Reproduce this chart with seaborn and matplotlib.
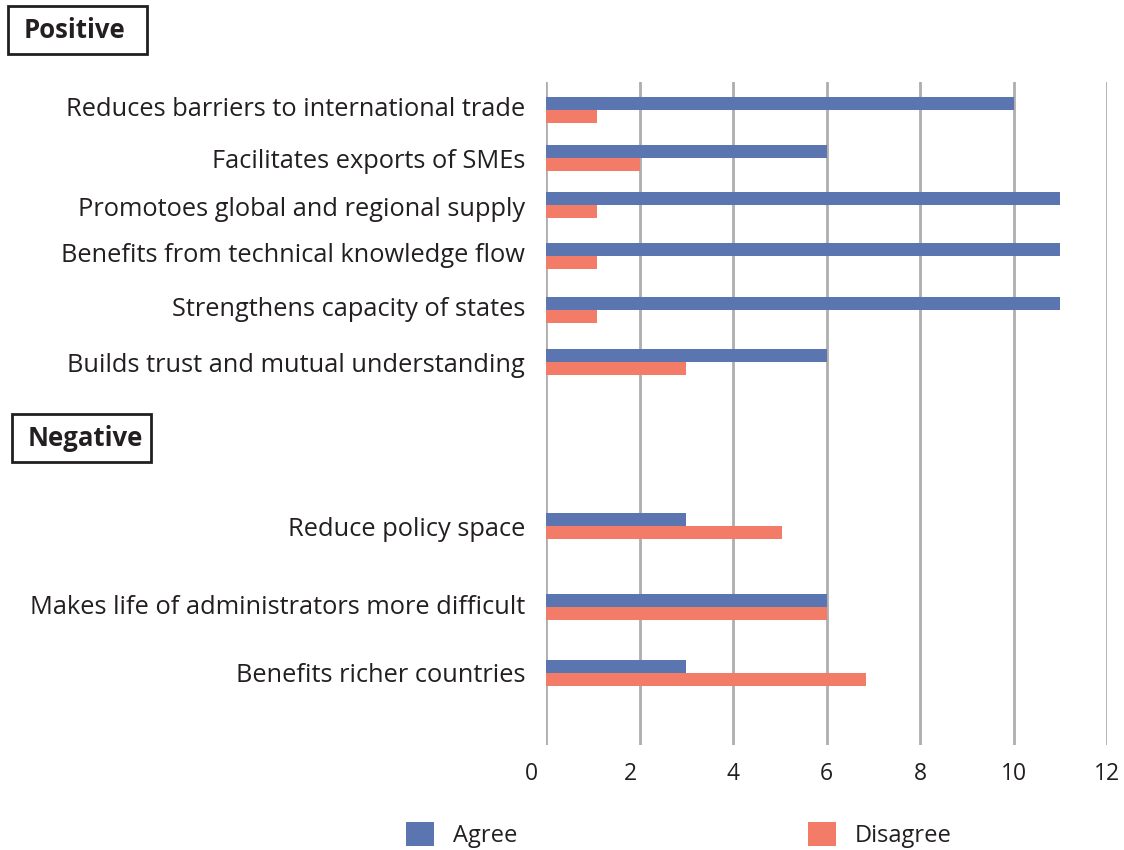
import numpy as np
import pandas as pd
import matplotlib
matplotlib.use("Agg")
import matplotlib.pyplot as plt
import matplotlib.transforms as mtransforms
from matplotlib.patches import Rectangle
import seaborn as sns

# ---- data ----
categories = [
    "Reduces barriers to international trade",
    "Facilitates exports of SMEs",
    "Promotoes global and regional supply",
    "Benefits from technical knowledge flow",
    "Strengthens capacity of states",
    "Builds trust and mutual understanding",
    "Reduce policy space",
    "Makes life of administrators more difficult",
    "Benefits richer countries",
]
agree = [10, 6, 11, 11, 11, 6, 3, 6, 3]
disagree = [1.1, 2, 1.1, 1.1, 1.1, 3, 5.05, 6, 6.85]
series = ["Agree", "Disagree"]
x_ticks = [0, 2, 4, 6, 8, 10, 12]
group_labels = ["Positive", "Negative"]

# ---- layout (pixel rows, top-down) ----
row_pos = [110, 158, 205, 256, 310, 362, 526, 607, 673]
label_pos = [106, 158, 207, 253, 306, 362, 527, 604, 673]
tick_shift_px = [-15, -9, 0, 0, 0, 0, 0]
colors = {"Agree": "#5B75B0", "Disagree": "#F27C68"}
text_color = "#231F20"

sns.set_theme(style="white")
plt.rcParams["font.family"] = ["Open Sans", "DejaVu Sans"]

W, H = 1124, 850
fig = plt.figure(figsize=(W / 100, H / 100), dpi=100)
ax_left, ax_right, ax_top, ax_bottom = 546, 1107, 82, 745
ax = fig.add_axes([ax_left / W, 1 - ax_bottom / H, (ax_right - ax_left) / W, (ax_bottom - ax_top) / H])

df = pd.DataFrame({
    "pos": row_pos * 2,
    "value": agree + disagree,
    "response": [series[0]] * len(agree) + [series[1]] * len(disagree),
})

gap = np.min(np.diff(sorted(row_pos)))
bar_px = 13
sns.barplot(data=df, x="value", y="pos", hue="response", orient="h",
            native_scale=True, palette=colors, width=2 * bar_px / gap,
            dodge=True, legend=True, ax=ax, linewidth=0, saturation=1)

ax.set_xlim(0, 12)
ax.set_ylim(ax_bottom, ax_top)
ax.set_xticks(x_ticks)
ax.set_xticklabels([str(t) for t in x_ticks], fontsize=16.5, color=text_color)
ax.set_yticks(label_pos)
ax.set_yticklabels(categories, fontsize=18.3, color=text_color)
ax.tick_params(axis="y", length=0, pad=15)
ax.tick_params(axis="x", length=0, pad=12)
for lab, dx in zip(ax.get_xticklabels(), tick_shift_px):
    lab.set_transform(lab.get_transform() + mtransforms.ScaledTranslation(dx / 100, 0, fig.dpi_scale_trans))
ax.set_xlabel("")
ax.set_ylabel("")
for s in ax.spines.values():
    s.set_visible(False)
ax.grid(axis="x", color="#AEAEAE", linewidth=2)
ax.grid(axis="y", visible=False)
ax.set_axisbelow(True)

handles, labels = ax.get_legend_handles_labels()
ax.get_legend().remove()
fig.legend(handles, labels, loc="center left", bbox_to_anchor=(406 / W, 1 - 835 / H),
           ncol=2, frameon=False, fontsize=17, handlelength=1.19, handleheight=1.2,
           handletextpad=0.8, columnspacing=12.3, labelcolor=text_color,
           borderaxespad=0, borderpad=0)

# group boxes
boxes = [(8, 6, 139, 48, 24), (12, 414, 139, 48, 28)]
for (bx, by, bw, bh, tx), lab in zip(boxes, group_labels):
    fig.patches.append(Rectangle((bx / W, 1 - (by + bh) / H), bw / W, bh / H,
                                 transform=fig.transFigure, fill=False,
                                 edgecolor=text_color, linewidth=2))
    fig.text(tx / W, 1 - (by + bh / 2 + 1) / H, lab, fontsize=18.5, fontweight="bold",
             color=text_color, ha="left", va="center")

fig.savefig("out.png", dpi=100)
